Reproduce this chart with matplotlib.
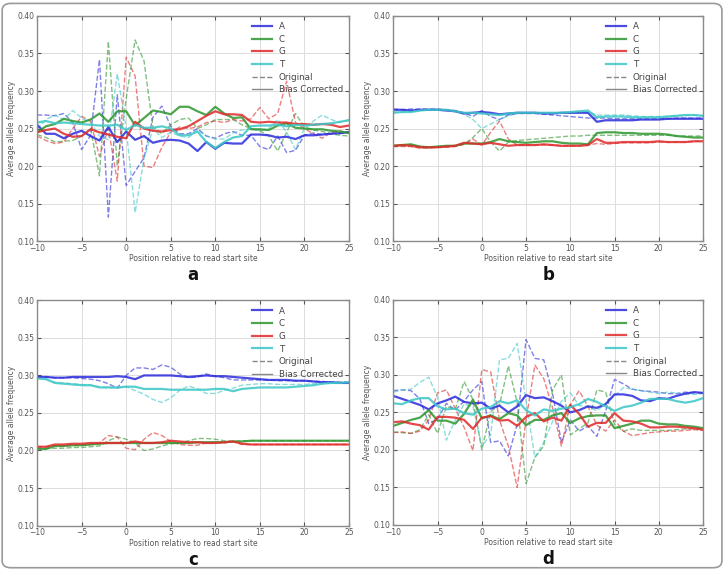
import numpy as np
import matplotlib
matplotlib.use("Agg")
import matplotlib.pyplot as plt
from matplotlib.patches import FancyBboxPatch
from matplotlib.lines import Line2D

positions = list(range(-10, 26))
bases = ["A", "C", "G", "T"]
base_colors = {"A": "#2b2bdc", "C": "#2e962e", "G": "#e02a2a", "T": "#3cc6c6"}

# ---- panel a ----
a_corr = {
    "A": [0.255, 0.243, 0.243, 0.237, 0.243, 0.247, 0.240, 0.234, 0.252, 0.232, 0.246, 0.235,
          0.240, 0.231, 0.234, 0.235, 0.234, 0.230, 0.220, 0.232, 0.223, 0.231, 0.230, 0.230,
          0.242, 0.242, 0.241, 0.238, 0.239, 0.236, 0.241, 0.241, 0.242, 0.243, 0.244, 0.245],
    "C": [0.245, 0.253, 0.256, 0.263, 0.260, 0.258, 0.262, 0.270, 0.259, 0.273, 0.273, 0.254,
          0.264, 0.274, 0.272, 0.269, 0.279, 0.279, 0.273, 0.268, 0.279, 0.270, 0.264, 0.265,
          0.249, 0.249, 0.248, 0.254, 0.257, 0.251, 0.250, 0.249, 0.249, 0.247, 0.246, 0.244],
    "G": [0.245, 0.248, 0.250, 0.243, 0.239, 0.240, 0.249, 0.245, 0.242, 0.239, 0.237, 0.259,
          0.250, 0.247, 0.246, 0.248, 0.249, 0.253, 0.260, 0.267, 0.273, 0.269, 0.269, 0.268,
          0.259, 0.258, 0.259, 0.258, 0.258, 0.256, 0.256, 0.255, 0.256, 0.255, 0.252, 0.254],
    "T": [0.258, 0.260, 0.257, 0.258, 0.257, 0.256, 0.255, 0.254, 0.254, 0.255, 0.248, 0.255,
          0.251, 0.251, 0.253, 0.250, 0.241, 0.241, 0.246, 0.232, 0.224, 0.232, 0.238, 0.240,
          0.253, 0.254, 0.254, 0.255, 0.253, 0.255, 0.254, 0.255, 0.256, 0.257, 0.259, 0.261],
}
a_orig = {
    "A": [0.268, 0.268, 0.267, 0.270, 0.258, 0.222, 0.241, 0.342, 0.132, 0.295, 0.174, 0.193,
          0.211, 0.265, 0.280, 0.253, 0.243, 0.243, 0.250, 0.240, 0.237, 0.243, 0.246, 0.241,
          0.241, 0.226, 0.222, 0.240, 0.218, 0.221, 0.241, 0.244, 0.242, 0.244, 0.243, 0.246],
    "C": [0.242, 0.238, 0.232, 0.233, 0.234, 0.240, 0.250, 0.187, 0.366, 0.200, 0.290, 0.368,
          0.340, 0.252, 0.243, 0.255, 0.262, 0.264, 0.250, 0.255, 0.262, 0.262, 0.262, 0.255,
          0.250, 0.247, 0.240, 0.220, 0.245, 0.270, 0.252, 0.248, 0.246, 0.243, 0.241, 0.240],
    "G": [0.240, 0.234, 0.230, 0.232, 0.250, 0.266, 0.260, 0.213, 0.250, 0.180, 0.345, 0.320,
          0.200, 0.198, 0.225, 0.245, 0.252, 0.250, 0.252, 0.258, 0.260, 0.258, 0.262, 0.260,
          0.263, 0.278, 0.263, 0.270, 0.313, 0.258, 0.250, 0.243, 0.237, 0.245, 0.247, 0.244],
    "T": [0.249, 0.262, 0.268, 0.262, 0.274, 0.264, 0.258, 0.240, 0.235, 0.323, 0.250, 0.138,
          0.210, 0.250, 0.238, 0.245, 0.240, 0.238, 0.248, 0.240, 0.236, 0.236, 0.244, 0.248,
          0.250, 0.247, 0.250, 0.262, 0.245, 0.222, 0.250, 0.260, 0.268, 0.262, 0.258, 0.262],
}

# ---- panel b ----
b_corr = {
    "A": [0.275, 0.275, 0.274, 0.275, 0.275, 0.275, 0.274, 0.273, 0.270, 0.271, 0.272, 0.271,
          0.269, 0.270, 0.271, 0.271, 0.271, 0.270, 0.270, 0.271, 0.271, 0.271, 0.271, 0.259,
          0.261, 0.261, 0.261, 0.261, 0.262, 0.262, 0.262, 0.263, 0.263, 0.263, 0.263, 0.263],
    "C": [0.227, 0.228, 0.229, 0.226, 0.225, 0.226, 0.227, 0.227, 0.230, 0.230, 0.230, 0.232,
          0.236, 0.233, 0.232, 0.231, 0.232, 0.233, 0.233, 0.231, 0.230, 0.230, 0.229, 0.244,
          0.245, 0.245, 0.244, 0.244, 0.243, 0.243, 0.243, 0.242, 0.240, 0.239, 0.238, 0.238],
    "G": [0.227, 0.228, 0.227, 0.225, 0.225, 0.225, 0.226, 0.227, 0.231, 0.230, 0.229, 0.231,
          0.229, 0.227, 0.228, 0.228, 0.228, 0.229, 0.228, 0.227, 0.227, 0.227, 0.228, 0.236,
          0.231, 0.231, 0.232, 0.232, 0.232, 0.232, 0.233, 0.232, 0.232, 0.232, 0.233, 0.233],
    "T": [0.271, 0.272, 0.272, 0.274, 0.275, 0.275, 0.275, 0.273, 0.271, 0.271, 0.270, 0.269,
          0.268, 0.270, 0.271, 0.271, 0.271, 0.271, 0.271, 0.271, 0.272, 0.273, 0.274, 0.265,
          0.266, 0.266, 0.266, 0.265, 0.265, 0.265, 0.265, 0.266, 0.267, 0.268, 0.268, 0.267],
}
b_orig = {
    "A": [0.276, 0.275, 0.276, 0.276, 0.276, 0.276, 0.275, 0.274, 0.271, 0.266, 0.274, 0.266,
          0.262, 0.268, 0.270, 0.270, 0.270, 0.269, 0.268, 0.267, 0.266, 0.265, 0.264, 0.264,
          0.264, 0.263, 0.263, 0.263, 0.263, 0.263, 0.263, 0.263, 0.264, 0.264, 0.264, 0.264],
    "C": [0.226, 0.227, 0.228, 0.226, 0.225, 0.226, 0.226, 0.227, 0.229, 0.238, 0.250, 0.232,
          0.220, 0.232, 0.234, 0.235, 0.236, 0.237, 0.238, 0.239, 0.240, 0.240, 0.241, 0.241,
          0.241, 0.241, 0.241, 0.241, 0.241, 0.241, 0.241, 0.241, 0.240, 0.240, 0.240, 0.240],
    "G": [0.226, 0.226, 0.226, 0.224, 0.224, 0.225, 0.225, 0.226, 0.229, 0.236, 0.228, 0.245,
          0.260, 0.236, 0.228, 0.228, 0.228, 0.228, 0.228, 0.227, 0.227, 0.227, 0.228, 0.230,
          0.229, 0.230, 0.231, 0.231, 0.231, 0.231, 0.232, 0.232, 0.232, 0.232, 0.233, 0.233],
    "T": [0.272, 0.272, 0.273, 0.274, 0.275, 0.275, 0.275, 0.273, 0.269, 0.262, 0.250, 0.256,
          0.262, 0.267, 0.270, 0.271, 0.271, 0.271, 0.271, 0.271, 0.271, 0.272, 0.272, 0.268,
          0.268, 0.268, 0.268, 0.267, 0.266, 0.266, 0.266, 0.266, 0.267, 0.267, 0.268, 0.267],
}

# ---- panel c ----
c_corr = {
    "A": [0.298, 0.298, 0.297, 0.297, 0.298, 0.298, 0.298, 0.298, 0.298, 0.299, 0.298, 0.295,
          0.300, 0.300, 0.300, 0.300, 0.299, 0.298, 0.299, 0.300, 0.299, 0.299, 0.298, 0.297,
          0.296, 0.295, 0.294, 0.294, 0.294, 0.293, 0.293, 0.292, 0.291, 0.291, 0.290, 0.290],
    "C": [0.202, 0.202, 0.206, 0.206, 0.207, 0.207, 0.208, 0.209, 0.210, 0.210, 0.210, 0.210,
          0.210, 0.210, 0.210, 0.210, 0.210, 0.210, 0.211, 0.211, 0.211, 0.211, 0.212, 0.212,
          0.213, 0.213, 0.213, 0.213, 0.213, 0.213, 0.213, 0.213, 0.213, 0.213, 0.213, 0.213],
    "G": [0.205, 0.205, 0.208, 0.208, 0.209, 0.209, 0.210, 0.210, 0.210, 0.210, 0.210, 0.212,
          0.210, 0.210, 0.211, 0.213, 0.212, 0.211, 0.211, 0.210, 0.210, 0.211, 0.212, 0.209,
          0.208, 0.208, 0.208, 0.208, 0.208, 0.208, 0.208, 0.208, 0.208, 0.208, 0.208, 0.208],
    "T": [0.296, 0.295, 0.290, 0.289, 0.288, 0.287, 0.287, 0.284, 0.284, 0.284, 0.285, 0.285,
          0.282, 0.282, 0.282, 0.281, 0.281, 0.281, 0.281, 0.281, 0.282, 0.282, 0.279, 0.282,
          0.283, 0.284, 0.284, 0.284, 0.284, 0.285, 0.286, 0.287, 0.289, 0.290, 0.290, 0.291],
}
c_orig = {
    "A": [0.299, 0.298, 0.297, 0.297, 0.297, 0.296, 0.295, 0.293, 0.289, 0.283, 0.300, 0.310,
          0.310, 0.308, 0.314, 0.311, 0.302, 0.297, 0.298, 0.302, 0.299, 0.297, 0.294, 0.294,
          0.294, 0.294, 0.294, 0.293, 0.293, 0.293, 0.293, 0.292, 0.292, 0.291, 0.291, 0.291],
    "C": [0.203, 0.203, 0.203, 0.203, 0.204, 0.204, 0.205, 0.206, 0.213, 0.218, 0.215, 0.210,
          0.200, 0.202, 0.206, 0.209, 0.210, 0.213, 0.216, 0.216, 0.215, 0.213, 0.212, 0.213,
          0.213, 0.213, 0.213, 0.213, 0.213, 0.213, 0.213, 0.213, 0.213, 0.213, 0.213, 0.213],
    "G": [0.205, 0.205, 0.206, 0.206, 0.207, 0.207, 0.208, 0.210, 0.220, 0.218, 0.203, 0.201,
          0.215, 0.224, 0.220, 0.212, 0.208, 0.207, 0.207, 0.210, 0.211, 0.210, 0.212, 0.208,
          0.208, 0.208, 0.208, 0.208, 0.208, 0.208, 0.208, 0.208, 0.208, 0.208, 0.208, 0.208],
    "T": [0.297, 0.295, 0.291, 0.290, 0.289, 0.288, 0.287, 0.285, 0.284, 0.283, 0.285, 0.280,
          0.275, 0.268, 0.264, 0.270, 0.280, 0.286, 0.282, 0.276, 0.276, 0.280, 0.283, 0.287,
          0.288, 0.289, 0.289, 0.288, 0.288, 0.288, 0.288, 0.289, 0.289, 0.290, 0.290, 0.291],
}

# ---- panel d ----
d_corr = {
    "A": [0.272, 0.268, 0.264, 0.260, 0.254, 0.262, 0.266, 0.271, 0.264, 0.262, 0.263, 0.255,
          0.259, 0.250, 0.258, 0.273, 0.269, 0.270, 0.265, 0.259, 0.250, 0.253, 0.258, 0.256,
          0.261, 0.274, 0.274, 0.272, 0.266, 0.265, 0.269, 0.268, 0.272, 0.275, 0.277, 0.276],
    "C": [0.232, 0.236, 0.240, 0.243, 0.253, 0.239, 0.239, 0.235, 0.248, 0.267, 0.242, 0.246,
          0.241, 0.249, 0.246, 0.233, 0.240, 0.240, 0.246, 0.249, 0.236, 0.242, 0.245, 0.246,
          0.246, 0.229, 0.232, 0.235, 0.239, 0.239, 0.235, 0.234, 0.234, 0.232, 0.231, 0.229],
    "G": [0.237, 0.238, 0.235, 0.233, 0.227, 0.244, 0.244, 0.243, 0.240, 0.228, 0.243, 0.245,
          0.239, 0.240, 0.232, 0.244, 0.249, 0.238, 0.243, 0.239, 0.260, 0.248, 0.231, 0.236,
          0.236, 0.249, 0.239, 0.238, 0.235, 0.230, 0.230, 0.231, 0.231, 0.230, 0.229, 0.227],
    "T": [0.262, 0.261, 0.266, 0.269, 0.269, 0.258, 0.254, 0.255, 0.249, 0.247, 0.255, 0.257,
          0.265, 0.262, 0.266, 0.253, 0.246, 0.254, 0.252, 0.255, 0.257, 0.261, 0.268, 0.264,
          0.258, 0.252, 0.257, 0.259, 0.263, 0.268, 0.268, 0.268, 0.265, 0.263, 0.265, 0.269],
}
d_orig = {
    "A": [0.279, 0.280, 0.279, 0.268, 0.235, 0.241, 0.262, 0.253, 0.265, 0.280, 0.291, 0.210,
          0.212, 0.192, 0.234, 0.347, 0.322, 0.320, 0.275, 0.210, 0.240, 0.225, 0.232, 0.218,
          0.252, 0.294, 0.288, 0.281, 0.279, 0.278, 0.277, 0.275, 0.275, 0.277, 0.276, 0.276],
    "C": [0.224, 0.223, 0.222, 0.227, 0.247, 0.222, 0.258, 0.254, 0.291, 0.267, 0.200, 0.251,
          0.260, 0.312, 0.263, 0.155, 0.190, 0.205, 0.280, 0.300, 0.220, 0.228, 0.236, 0.280,
          0.277, 0.234, 0.225, 0.228, 0.226, 0.226, 0.226, 0.226, 0.227, 0.228, 0.228, 0.228],
    "G": [0.223, 0.224, 0.222, 0.225, 0.240, 0.276, 0.280, 0.255, 0.230, 0.199, 0.307, 0.304,
          0.240, 0.205, 0.150, 0.240, 0.313, 0.295, 0.256, 0.205, 0.260, 0.279, 0.258, 0.233,
          0.225, 0.240, 0.225, 0.219, 0.221, 0.223, 0.224, 0.225, 0.225, 0.226, 0.227, 0.226],
    "T": [0.277, 0.280, 0.281, 0.290, 0.297, 0.270, 0.213, 0.240, 0.261, 0.258, 0.205, 0.220,
          0.320, 0.322, 0.342, 0.265, 0.190, 0.210, 0.238, 0.265, 0.276, 0.259, 0.258, 0.252,
          0.262, 0.272, 0.283, 0.281, 0.279, 0.277, 0.275, 0.277, 0.276, 0.274, 0.274, 0.275],
}

panels = [
    ("a", a_corr, a_orig, [0.051, 0.577, 0.429, 0.395]),
    ("b", b_corr, b_orig, [0.541, 0.577, 0.426, 0.395]),
    ("c", c_corr, c_orig, [0.051, 0.078, 0.429, 0.395]),
    ("d", d_corr, d_orig, [0.541, 0.079, 0.426, 0.395]),
]

fig = plt.figure(figsize=(7.27, 5.70), dpi=100)

# rounded frame around the whole figure
frame = FancyBboxPatch((0.003, 0.004), 0.990, 0.990, boxstyle="round,pad=0,rounding_size=0.012",
                       transform=fig.transFigure, fill=False, edgecolor="#9a9a9a", linewidth=1.2)
fig.patches.append(frame)

for letter, corr, orig, rect in panels:
    ax = fig.add_axes(rect)
    for b in bases:
        ax.plot(positions, orig[b], linestyle="--", color=base_colors[b], linewidth=1.0, alpha=0.6)
    for b in bases:
        ax.plot(positions, corr[b], linestyle="-", color=base_colors[b], linewidth=1.6, alpha=0.85)

    ax.set_xlim(-10, 25)
    ax.set_ylim(0.10, 0.40)
    ax.set_xticks([-10, -5, 0, 5, 10, 15, 20, 25])
    ax.set_xticklabels(["\u221210", "\u22125", "0", "5", "10", "15", "20", "25"])
    ax.set_yticks([0.10, 0.15, 0.20, 0.25, 0.30, 0.35, 0.40])
    ax.set_yticklabels(["0.10", "0.15", "0.20", "0.25", "0.30", "0.35", "0.40"])
    ax.grid(True, color="#dddddd", linewidth=0.7)
    ax.set_axisbelow(True)
    ax.tick_params(labelsize=5.5, colors="#555555", direction="in", length=3, pad=2,
                   top=True, right=True)
    for sp in ax.spines.values():
        sp.set_color("#8a8a8a")
        sp.set_linewidth(1.0)
    ax.set_xlabel("Position relative to read start site", fontsize=5.5, color="#555555", labelpad=1)
    ax.set_ylabel("Average allele frequency", fontsize=5.5, color="#555555", labelpad=1)

    handles = [Line2D([], [], color=base_colors[b], linewidth=1.6, alpha=0.85) for b in bases]
    handles += [Line2D([], [], color="#888888", linestyle="--", linewidth=1.0),
                Line2D([], [], color="#888888", linestyle="-", linewidth=1.0)]
    leg = ax.legend(handles, bases + ["Original", "Bias Corrected"], loc="upper right",
                    frameon=False, fontsize=6.3, handlelength=2.2, labelspacing=0.42,
                    borderaxespad=0.3)
    for t in leg.get_texts():
        t.set_color("#444444")

    cx = rect[0] + rect[2] / 2
    fig.text(cx, rect[1] - 0.060, letter, ha="center", va="center", fontsize=12,
             fontweight="bold", color="#111111")

fig.savefig("out.png", dpi=100)
